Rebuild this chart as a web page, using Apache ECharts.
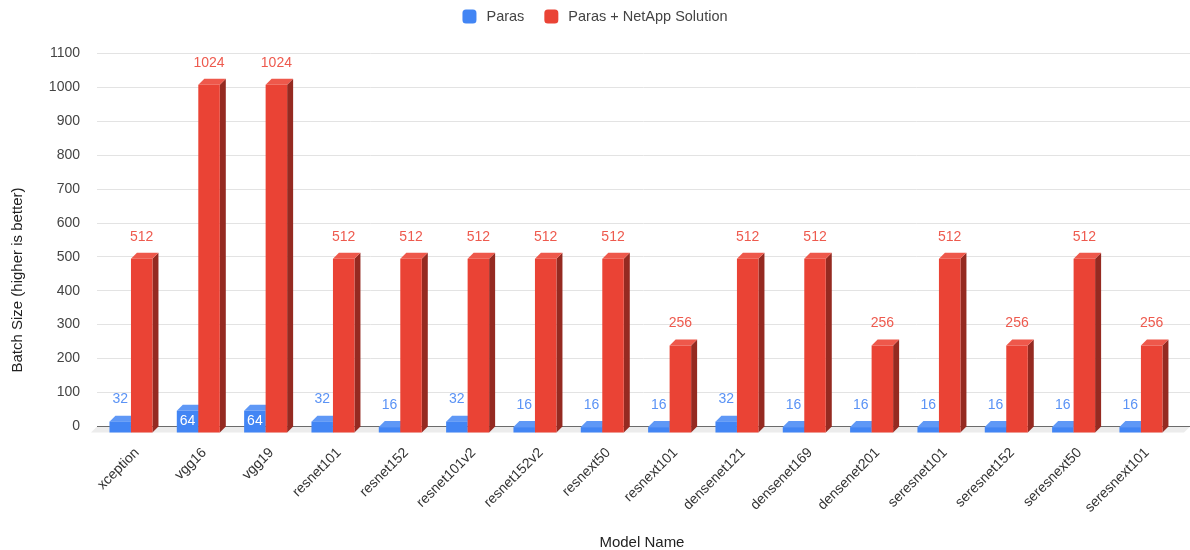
<!DOCTYPE html>
<html>
<head>
<meta charset="utf-8">
<title>Batch Size by Model</title>
<script src="https://cdn.jsdelivr.net/npm/echarts@6/dist/echarts.min.js"></script>
<style>
  html, body { margin: 0; padding: 0; background: #ffffff; }
  #chart { width: 1190px; height: 550px; }
</style>
</head>
<body>
<div id="chart"></div>
<script>
// Model names along the category axis
const categories = ['xception', 'vgg16', 'vgg19', 'resnet101', 'resnet152', 'resnet101v2',
  'resnet152v2', 'resnext50', 'resnext101', 'densenet121', 'densenet169', 'densenet201',
  'seresnet101', 'seresnet152', 'seresnext50', 'seresnext101'];

// Largest batch size reached per model
const parasValues = [32, 64, 64, 32, 16, 32, 16, 16, 16, 32, 16, 16, 16, 16, 16, 16];
const netappValues = [512, 1024, 1024, 512, 512, 512, 512, 512, 256, 512, 512, 256, 512, 256, 512, 256];

// Value axis ticks
const yMin = 0;
const yMax = 1100;
const yStep = 100;

const FONT = "'Liberation Sans', Arial, sans-serif";
const DEPTH = 6;      // 3D extrusion of bars and floor (px)
const BAR_W = 21.5;   // width of a bar's front face (px)

// Draws one extruded column: front face, lit top face, shaded right side, value label.
// Axis coordinates are on the back plane; the front face sits DEPTH px left and down.
function columnRenderer(side, colors, labelColor) {
  return function (params, api) {
    const idx = api.value(0);
    const v = api.value(1);
    const top = api.coord([idx, v]);
    const base = api.coord([idx, 0]);
    const c = top[0] - DEPTH;
    const x0 = side === 'left' ? c - BAR_W : c;
    const x1 = x0 + BAR_W;
    const yt = top[1] + DEPTH;
    const yb = base[1] + DEPTH;
    const h = yb - yt;
    const children = [
      { type: 'polygon', shape: { points: [[x1, yt], [x1 + DEPTH, yt - DEPTH], [x1 + DEPTH, yb - DEPTH], [x1, yb]] },
        style: { fill: colors.side } },
      { type: 'polygon', shape: { points: [[x0, yt], [x1, yt], [x1 + DEPTH, yt - DEPTH], [x0 + DEPTH, yt - DEPTH]] },
        style: { fill: colors.top } },
      { type: 'rect', shape: { x: x0, y: yt, width: BAR_W, height: h },
        style: { fill: colors.front } }
    ];
    const inside = side === 'left' && h >= 18;
    children.push({
      type: 'text',
      style: {
        text: String(v),
        x: x0 + BAR_W / 2,
        y: inside ? yt + h / 2 : yt - 22,
        align: 'center',
        verticalAlign: 'middle',
        fill: inside ? '#ffffff' : labelColor,
        fontSize: 14,
        fontFamily: FONT
      }
    });
    return { type: 'group', children: children };
  };
}

const chart = echarts.init(document.getElementById('chart'), null, { renderer: 'canvas' });

chart.setOption({
  animation: false,
  backgroundColor: '#ffffff',
  legend: {
    top: 4,
    left: 'center',
    icon: 'roundRect',
    itemWidth: 14,
    itemHeight: 14,
    itemGap: 20,
    textStyle: { color: '#444444', fontSize: 14.5, fontFamily: FONT, padding: [0, 0, 0, 5] },
    data: ['Paras', 'Paras + NetApp Solution']
  },
  grid: [
    // back wall: gridlines and value ticks
    { left: 97, right: 0, top: 53, height: 373.5, outerBoundsMode: 'none' },
    // column positions on the back plane, category labels
    { left: 103.3, right: 9.4, top: 53, height: 373.5, outerBoundsMode: 'none' }
  ],
  xAxis: [
    { gridIndex: 0, type: 'category', data: categories, show: true,
      axisLine: { show: false }, axisTick: { show: false }, axisLabel: { show: false } },
    { gridIndex: 1, type: 'category', data: categories,
      axisLine: { show: false }, axisTick: { show: false },
      axisLabel: { rotate: 45, margin: 24, color: '#333333', fontSize: 14, fontFamily: FONT },
      name: 'Model Name', nameLocation: 'middle', nameGap: 109,
      nameTextStyle: { color: '#222222', fontSize: 15, fontFamily: FONT } }
  ],
  yAxis: [
    { gridIndex: 0, type: 'value', min: yMin, max: yMax, interval: yStep,
      axisLine: { show: false }, axisTick: { show: false },
      axisLabel: { margin: 17, color: '#444444', fontSize: 14, fontFamily: FONT,
        formatter: function (v) { return String(v); } },
      splitLine: { lineStyle: { color: '#e3e3e3', width: 1 } } },
    { gridIndex: 1, type: 'value', min: yMin, max: yMax, interval: yStep, show: false,
      splitLine: { show: false } }
  ],
  graphic: [
    { type: 'text', x: 18, y: 280, rotation: Math.PI / 2,
      style: { text: 'Batch Size (higher is better)', fill: '#222222', fontSize: 15,
        fontFamily: FONT, align: 'center', verticalAlign: 'middle' } }
  ],
  series: [
    {
      // floor slab under the columns with the zero baseline on its back edge
      type: 'custom', xAxisIndex: 0, yAxisIndex: 0, z: 1, silent: true,
      data: [[0, 0]],
      renderItem: function (params, api) {
        const cs = params.coordSys;
        const y0 = api.coord([0, 0])[1];
        return { type: 'group', children: [
          { type: 'polygon', shape: { points: [[cs.x, y0], [cs.x + cs.width, y0],
            [cs.x + cs.width - DEPTH, y0 + DEPTH], [cs.x - DEPTH, y0 + DEPTH]] },
            style: { fill: '#ececec' } },
          { type: 'line', shape: { x1: cs.x, y1: y0, x2: cs.x + cs.width, y2: y0 },
            style: { stroke: '#6b6b6b', lineWidth: 1.2 } }
        ] };
      }
    },
    {
      name: 'Paras', type: 'custom', xAxisIndex: 1, yAxisIndex: 1, z: 10,
      itemStyle: { color: '#4285F4' },
      data: parasValues.map(function (v, i) { return [i, v]; }),
      renderItem: columnRenderer('left', { front: '#4285F4', top: '#5f98f6', side: '#2f62bd' }, '#5b93f5')
    },
    {
      name: 'Paras + NetApp Solution', type: 'custom', xAxisIndex: 1, yAxisIndex: 1, z: 11,
      itemStyle: { color: '#EA4335' },
      data: netappValues.map(function (v, i) { return [i, v]; }),
      renderItem: columnRenderer('right', { front: '#EA4335', top: '#ee584b', side: '#952a21' }, '#ee5a4e')
    }
  ]
});
</script>
</body>
</html>
